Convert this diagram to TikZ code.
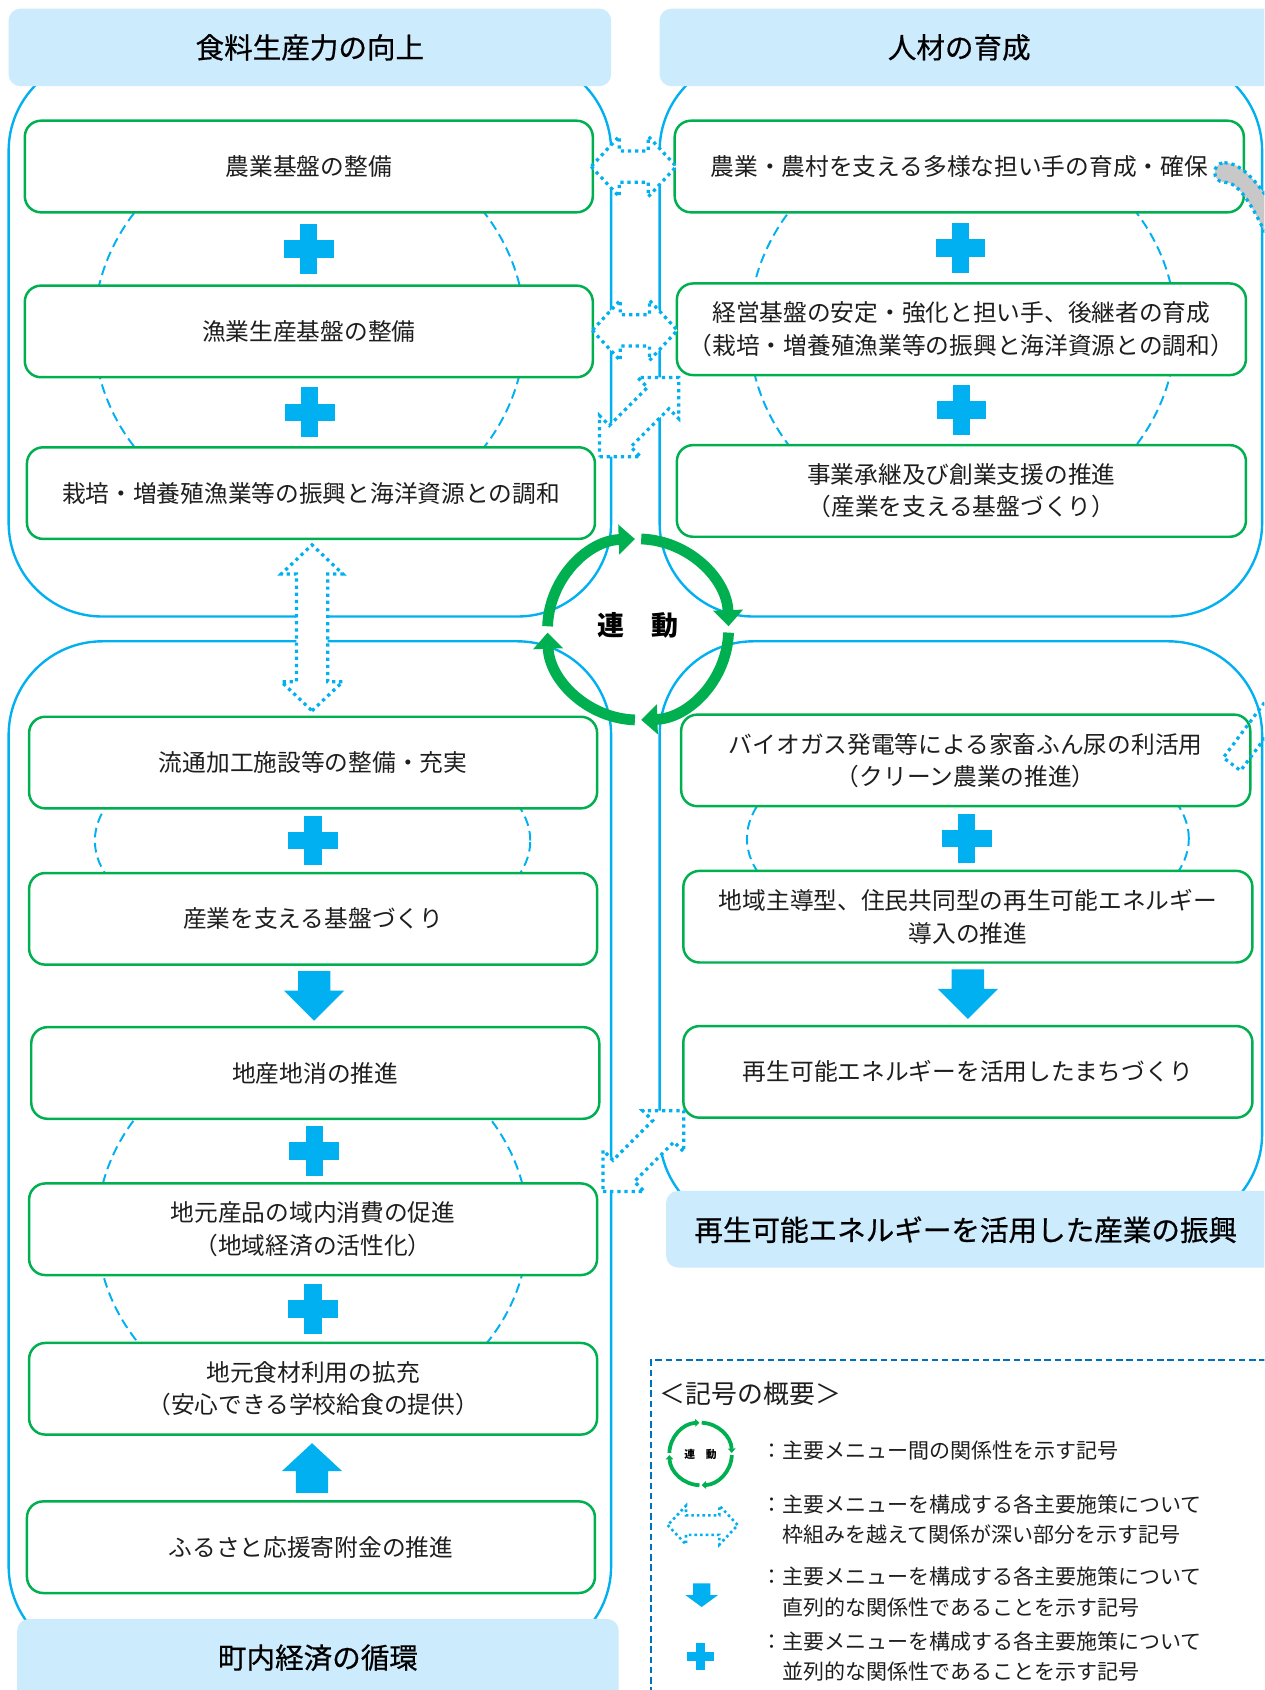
\documentclass[tikz,border=0pt]{standalone}
\usepackage{fontspec}
\newfontfamily\cjk{Noto Sans CJK JP}
\newfontfamily\cjkhd[FakeBold=0.6]{Noto Sans CJK JP}
\usetikzlibrary{arrows.meta,calc}
\definecolor{sky}{RGB}{0,176,240}
\definecolor{grn}{RGB}{0,176,80}
\definecolor{hdr}{RGB}{204,235,252}
\definecolor{lgd}{RGB}{0,112,192}
\definecolor{gry}{RGB}{200,200,200}
\definecolor{txt}{RGB}{30,30,30}
\tikzset{
  region/.style={draw=sky, line width=2.2pt, rounded corners=87pt},
  hdrbox/.style={fill=hdr, rounded corners=11pt, inner sep=0pt},
  hdrtext/.style={inner sep=0pt, text=black, font=\cjkhd\fontsize{26.5}{30}\selectfont},
  gbox/.style={draw=grn, line width=2.3pt, fill=white, rounded corners=15pt, align=center, inner sep=0pt, text=txt, font=\cjk\fontsize{22}{30}\selectfont, minimum width=527pt, minimum height=85pt},
  ell/.style={draw=sky, line width=1.8pt, dash pattern=on 9pt off 5pt},
  dotline/.style={draw=sky, line width=3pt, dash pattern=on 3pt off 3.6pt, fill=white},
  dotsmall/.style={draw=sky, line width=2.4pt, dash pattern=on 2.4pt off 2.8pt, fill=white},
  ltext/.style={anchor=west, inner sep=0pt, align=left, text=txt, font=\cjk\fontsize{19.5}{28}\selectfont},
  ringarc/.style={draw=grn, line width=10pt, -{Triangle[width=27pt,length=15pt]}},
  ringsmall/.style={draw=grn, line width=3.5pt, -{Triangle[width=7pt,length=4pt]}},
}
% half-length, head length, head half width, shaft half width, style
\newcommand\dblarr[5]{%
  \path[#5] (-#1,0) -- (-#1+#2,#3) -- (-#1+#2,#4) -- (#1-#2,#4) -- (#1-#2,#3) -- (#1,0) -- (#1-#2,-#3) -- (#1-#2,-#4) -- (-#1+#2,-#4) -- (-#1+#2,-#3) -- cycle;}
% centre, half size, half arm
\newcommand\plusmark[3]{%
  \fill[sky] ($(#1)+(-#2,-#3)$) rectangle ($(#1)+(#2,#3)$);
  \fill[sky] ($(#1)+(-#3,-#2)$) rectangle ($(#1)+(#3,#2)$);}
% centre, head half width, shaft half width, half height, head height
\newcommand\blockdown[5]{%
  \fill[sky] ($(#1)+(-#3,-#4)$) -- ($(#1)+(#3,-#4)$) -- ($(#1)+(#3,#4-#5)$) -- ($(#1)+(#2,#4-#5)$) -- ($(#1)+(0,#4)$) -- ($(#1)+(-#2,#4-#5)$) -- ($(#1)+(-#3,#4-#5)$) -- cycle;}
\newcommand\blockup[5]{%
  \fill[sky] ($(#1)+(-#3,#4)$) -- ($(#1)+(#3,#4)$) -- ($(#1)+(#3,-#4+#5)$) -- ($(#1)+(#2,-#4+#5)$) -- ($(#1)+(0,-#4)$) -- ($(#1)+(-#2,-#4+#5)$) -- ($(#1)+(-#3,-#4+#5)$) -- cycle;}
\begin{document}
\begin{tikzpicture}[x=1pt,y=-1pt]
\clip (0,0) rectangle (1173,1568);
\fill[white] (0,0) rectangle (1173,1568);

% big regions
\draw[region] (8,53) rectangle (567,572);
\draw[region] (612,53) rectangle (1171,572);
\draw[region] (8,595) rectangle (567,1540);
\draw[region] (612,595) rectangle (1171,1139);

% dashed ellipses
\draw[ell] (287,306) ellipse [x radius=200pt, y radius=186pt];
\draw[ell] (893,305) ellipse [x radius=198pt, y radius=186pt];
\draw[ell] (290,780) ellipse [x radius=202pt, y radius=100pt];
\draw[ell] (290,1140) ellipse [x radius=200pt, y radius=180pt];
\draw[ell] (898,778) ellipse [x radius=205pt, y radius=100pt];

% green boxes
\node[gbox] (g1) at (286.5,154.5) {農業基盤の整備};
\node[gbox] (g2) at (286.5,307.5) {漁業生産基盤の整備};
\node[gbox] (g3) at (288.5,457.5) {栽培・増養殖漁業等の振興と海洋資源との調和};
\node[gbox, minimum width=528pt] (g4) at (890,154.5) {農業・農村を支える多様な担い手の育成・確保};
\node[gbox, minimum width=528pt] (g5) at (892,305.5) {経営基盤の安定・強化と担い手、後継者の育成\\（栽培・増養殖漁業等の振興と海洋資源との調和）};
\node[gbox, minimum width=528pt] (g6) at (892,455.5) {事業承継及び創業支援の推進\\（産業を支える基盤づくり）};
\node[gbox] (g7) at (290.5,707.5) {流通加工施設等の整備・充実};
\node[gbox] (g8) at (290.5,852.5) {産業を支える基盤づくり};
\node[gbox] (g9) at (292.5,995.5) {地産地消の推進};
\node[gbox] (g10) at (290.5,1140.5) {地元産品の域内消費の促進\\（地域経済の活性化）};
\node[gbox] (g11) at (290.5,1288.5) {地元食材利用の拡充\\（安心できる学校給食の提供）};
\node[gbox] (g12) at (288.5,1435.5) {ふるさと応援寄附金の推進};
\node[gbox, minimum width=528pt] (g13) at (896,705.5) {バイオガス発電等による家畜ふん尿の利活用\\（クリーン農業の推進）};
\node[gbox, minimum width=528pt] (g14) at (898,850.5) {地域主導型、住民共同型の再生可能エネルギー\\導入の推進};
\node[gbox, minimum width=528pt] (g15) at (898,994.5) {再生可能エネルギーを活用したまちづくり};

% plus marks
\coordinate (p1) at ($(g1.south)!0.5!(g2.north)$);
\coordinate (p2) at ($(g2.south)!0.5!(g3.north)$);
\coordinate (p3) at ($(g4.south)!0.5!(g5.north)$);
\coordinate (p4) at ($(g5.south)!0.5!(g6.north)$);
\coordinate (p5) at ($(g7.south)!0.5!(g8.north)$);
\coordinate (p6) at ($(g9.south)!0.5!(g10.north)$);
\coordinate (p7) at ($(g10.south)!0.5!(g11.north)$);
\coordinate (p8) at ($(g13.south)!0.5!(g14.north)$);
\foreach \p in {p1,p2,p3,p4,p5,p6,p7,p8} {\plusmark{\p}{23}{8}}

% block arrows
\coordinate (b1) at ($(g8.south)!0.5!(g9.north)$);
\coordinate (b2) at ($(g14.south)!0.5!(g15.north)$);
\coordinate (b3) at ($(g12.north)!0.5!(g11.south)$);
\blockdown{b1}{28}{15}{23}{28}
\blockdown{b2}{28}{15}{23}{28}
\blockup{b3}{28}{15}{23}{26}

% dotted double arrows
\coordinate (a1) at ($(g1.east)!0.5!(g4.west)$);
\coordinate (a2) at ($(g2.east)!0.5!(g5.west)$);
\coordinate (v1) at ($(g3.south)!0.5!(g7.north)$);
\coordinate (d1) at (593,387);
\coordinate (d2) at (597,1068);
\begin{scope}[shift={(a1)}] \dblarr{39.5}{26}{28}{14.5}{dotline} \end{scope}
\begin{scope}[shift={(a2)}] \dblarr{39.5}{26}{28}{14.5}{dotline} \end{scope}
\begin{scope}[shift={(v1)}, rotate=90] \dblarr{77}{27}{28.5}{14.5}{dotline} \end{scope}
\begin{scope}[shift={(d1)}, rotate=45] \dblarr{52}{27}{27}{14}{dotline} \end{scope}
\begin{scope}[shift={(d2)}, rotate=45] \dblarr{53}{27}{27}{14}{dotline} \end{scope}

% gray band at top right
\path[fill=gry, draw=sky, line width=3pt, dash pattern=on 3pt off 3.6pt]
  (1136,151) .. controls (1153,151) and (1170,172) .. (1190,206) -- (1174,216)
  .. controls (1160,188) and (1149,169) .. (1136,169)
  .. controls (1124,169) and (1124,151) .. (1136,151) -- cycle;
% dotted band at right
\draw[sky, line width=3pt, dash pattern=on 3pt off 3.6pt] (1185,636) -- (1135,703) -- (1151,715) -- (1201,648);

% headers
\node[hdrbox, minimum width=559pt, minimum height=72pt] (h1) at (287.5,44) {};
\node[hdrtext] (h1t) at (287.5,44) {食料生産力の向上};
\node[hdrbox, minimum width=578pt, minimum height=72pt] (h2) at (901,44) {};
\node[hdrtext] (h2t) at (890,44) {人材の育成};
\node[hdrbox, minimum width=572pt, minimum height=71pt] (h3) at (904,1140.5) {};
\node[hdrtext] (h3t) at (896,1141) {再生可能エネルギーを活用した産業の振興};
\node[hdrbox, minimum width=558pt, minimum height=83pt] (h4) at (295,1543.5) {};
\node[hdrtext] (h4t) at (295,1538) {町内経済の循環};

% ring
\begin{scope}[shift={(592,584)}]
  \foreach \a/\b in {178/92, 88/2, -2/-88, -92/-178}
    \draw[ringarc] (\a:84pt) arc[start angle=\a, end angle=\b, radius=84pt];
\end{scope}
\node[inner sep=0pt, text=black, font=\cjk\bfseries\fontsize{25}{30}\selectfont] (rendo) at (592,580) {連　動};

% legend
\draw[lgd, line width=2pt, dash pattern=on 6pt off 3.5pt] (604,1600) -- (604,1262) -- (1200,1262);
\node[anchor=west, inner sep=0pt, text=txt, font=\cjk\fontsize{24}{28}\selectfont] (lt) at (612,1293) {＜記号の概要＞};
\begin{scope}[shift={(650,1349)}]
  \foreach \a/\b in {178/92, 88/2, -2/-88, -92/-178}
    \draw[ringsmall] (\a:29pt) arc[start angle=\a, end angle=\b, radius=29pt];
\end{scope}
\node[inner sep=0pt, text=black, font=\cjk\bfseries\fontsize{10}{12}\selectfont] (lrendo) at (650,1349) {連　動};
\coordinate (la) at (652,1415);
\begin{scope}[shift={(la)}] \dblarr{32.5}{17}{18}{9}{dotsmall} \end{scope}
\coordinate (ld) at (651,1480);
\blockdown{ld}{15}{8}{11}{11}
\coordinate (lp) at (650,1537);
\plusmark{lp}{12.5}{4.5}
\node[ltext] (l1) at (706,1346) {：主要メニュー間の関係性を示す記号};
\node[ltext] (l2) at (706,1410) {：主要メニューを構成する各主要施策について\\　枠組みを越えて関係が深い部分を示す記号};
\node[ltext] (l3) at (706,1477) {：主要メニューを構成する各主要施策について\\　直列的な関係性であることを示す記号};
\node[ltext] (l4) at (706,1537) {：主要メニューを構成する各主要施策について\\　並列的な関係性であることを示す記号};
\end{tikzpicture}
\end{document}
